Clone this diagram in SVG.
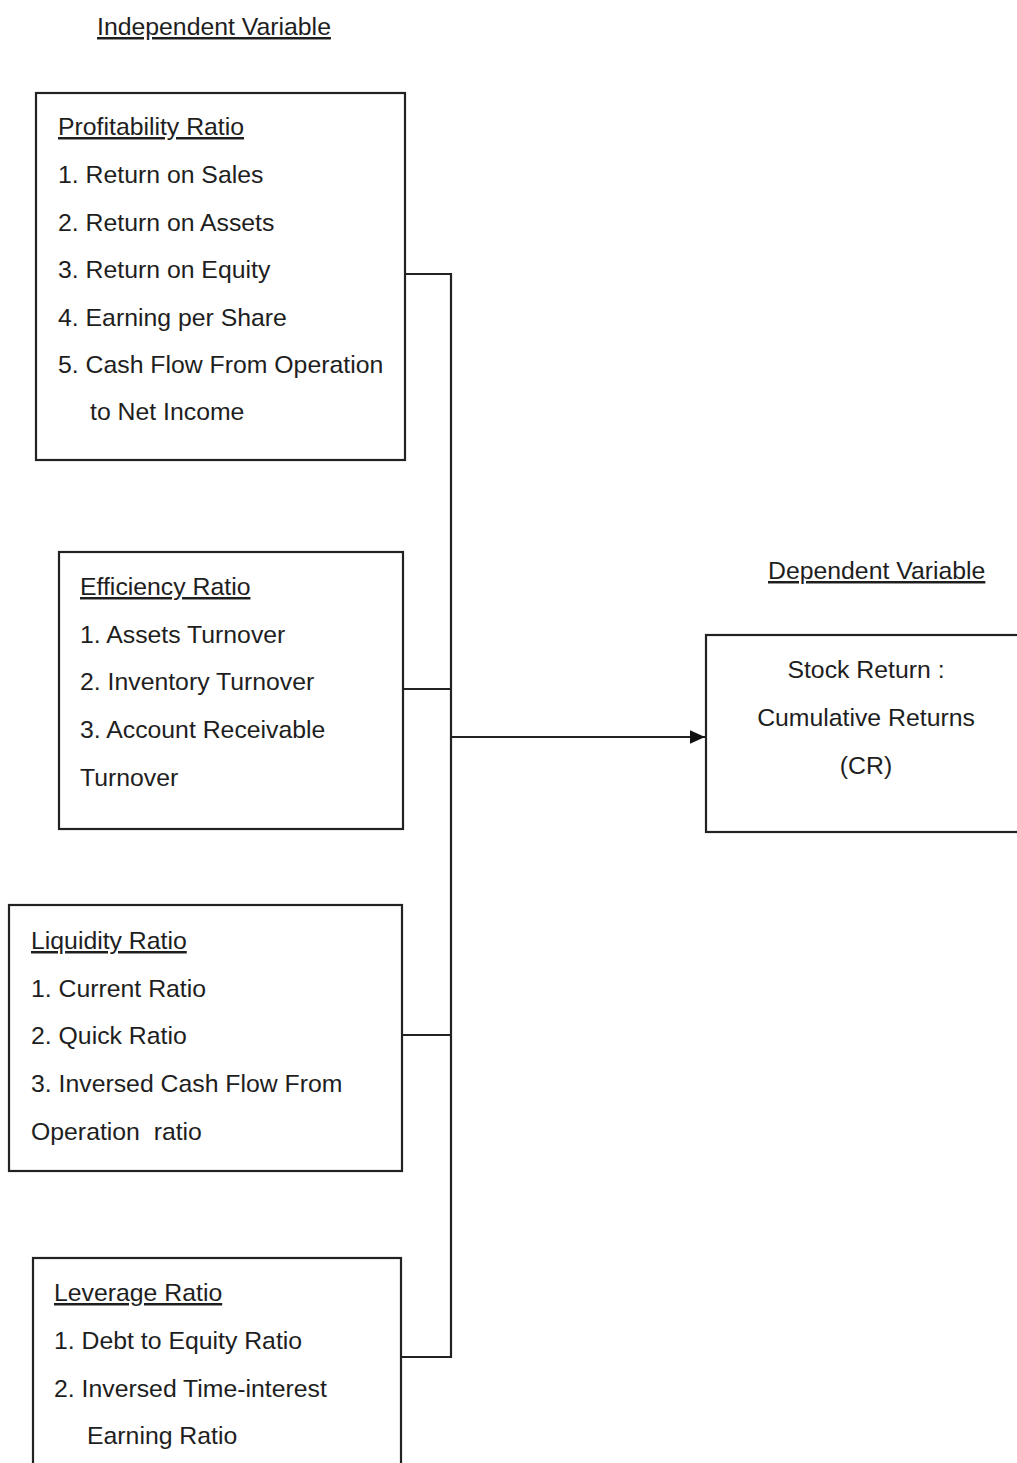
<svg xmlns="http://www.w3.org/2000/svg" width="1017" height="1463" viewBox="0 0 1017 1463">
<style>
text{font-family:"Liberation Sans",Arial,sans-serif;font-size:24.8px;fill:#1e1e1e}
.u{text-decoration:underline}
.box{fill:none;stroke:#222;stroke-width:2.2}
.c{fill:none;stroke:#222;stroke-width:2.2}
.m{text-anchor:middle}
</style>
<defs>
<marker id="ah" viewBox="0 0 10 10" refX="10" refY="5" markerWidth="15" markerHeight="15" markerUnits="userSpaceOnUse" orient="auto">
<path d="M0,0.5 L10,5 L0,9.5 z" fill="#111"/>
</marker>
</defs>
<rect width="1017" height="1463" fill="#fff"/>
<text id="title-independent" class="u" x="97" y="35">Independent Variable</text>
<text id="title-dependent" class="u" x="768" y="579">Dependent Variable</text>
<g id="profitability">
<rect class="box" x="36" y="93" width="369" height="367"/>
<text class="u" x="58" y="135">Profitability Ratio</text>
<text x="58" y="183">1. Return on Sales</text>
<text x="58" y="231">2. Return on Assets</text>
<text x="58" y="278">3. Return on Equity</text>
<text x="58" y="326">4. Earning per Share</text>
<text x="58" y="373">5. Cash Flow From Operation</text>
<text x="90" y="420">to Net Income</text>
</g>
<g id="efficiency">
<rect class="box" x="59" y="552" width="344" height="277"/>
<text class="u" x="80" y="595">Efficiency Ratio</text>
<text x="80" y="643">1. Assets Turnover</text>
<text x="80" y="690">2. Inventory Turnover</text>
<text x="80" y="738">3. Account Receivable</text>
<text x="80" y="786">Turnover</text>
</g>
<g id="liquidity">
<rect class="box" x="9" y="905" width="393" height="266"/>
<text class="u" x="31" y="949">Liquidity Ratio</text>
<text x="31" y="997">1. Current Ratio</text>
<text x="31" y="1044">2. Quick Ratio</text>
<text x="31" y="1092">3. Inversed Cash Flow From</text>
<text x="31" y="1140" xml:space="preserve">Operation  ratio</text>
</g>
<g id="leverage">
<rect class="box" x="33" y="1258" width="368" height="220"/>
<text class="u" x="54" y="1301">Leverage Ratio</text>
<text x="54" y="1349">1. Debt to Equity Ratio</text>
<text x="54" y="1397">2. Inversed Time-interest</text>
<text x="87" y="1444">Earning Ratio</text>
</g>
<g id="stock-return">
<rect class="box" x="706" y="635" width="320" height="197"/>
<text class="m" x="866" y="678">Stock Return :</text>
<text class="m" x="866" y="726">Cumulative Returns</text>
<text class="m" x="866" y="774">(CR)</text>
</g>
<g id="connectors">
<path class="c" d="M405,274 H451 V1357 H401"/>
<path class="c" d="M403,689 H451"/>
<path class="c" d="M402,1035 H451"/>
<path class="c" d="M451,737 H705" marker-end="url(#ah)"/>
</g>
</svg>
